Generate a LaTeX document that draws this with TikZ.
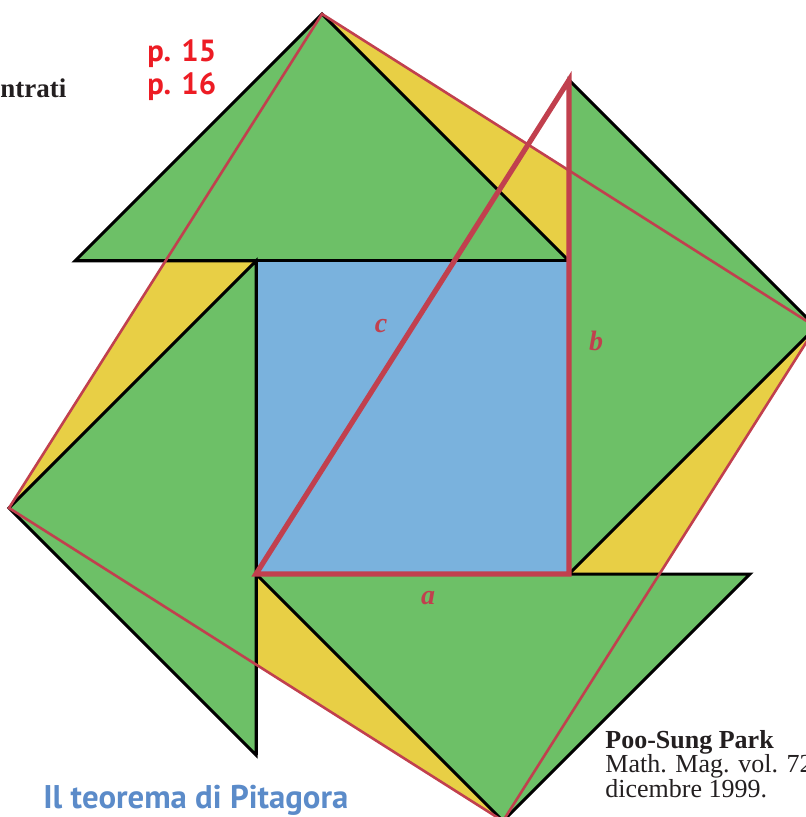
\documentclass[tikz,border=0pt]{standalone}
\usepackage{fontspec}
\setmainfont{Liberation Serif}
\newfontfamily\ptsans{PT Sans}
\definecolor{grn}{HTML}{6DC067}
\definecolor{yel}{HTML}{E8CF45}
\definecolor{blu}{HTML}{7AB2DD}
\definecolor{redl}{HTML}{C1404E}
\definecolor{redp}{HTML}{ED1C24}
\definecolor{bluet}{HTML}{5B8BC9}
\definecolor{txt}{HTML}{231F20}
\begin{document}
\begin{tikzpicture}[x=0.5pt,y=-0.5pt,
  greentri/.style={fill=grn,draw=black,line width=1.5pt,line join=miter},
  yellowfill/.style={fill=yel},
  bluesq/.style={fill=blu},
  redthin/.style={draw=redl,line width=1.3pt,line join=miter},
  redthick/.style={draw=redl,line width=2.6pt,line join=miter},
  lbl/.style={text=redl,font=\fontsize{14}{16}\selectfont\bfseries\itshape},
  pref/.style={text=redp,font=\ptsans\fontsize{15.3}{17}\selectfont\bfseries,anchor=base west,inner sep=0pt},
  cite/.style={text=txt,font=\fontsize{13}{13}\selectfont,anchor=base west,inner sep=0pt}]
\useasboundingbox (0,0) rectangle (805,817);
% key points
\coordinate (S1) at (256,574);
\coordinate (S2) at (569,574);
\coordinate (S3) at (569,261);
\coordinate (S4) at (256,261);
\coordinate (T) at (569,80);
\coordinate (TL) at (75,261);
\coordinate (TA) at (322,14);
\coordinate (RA) at (816,327);
\coordinate (BR) at (750,574);
\coordinate (BA) at (503,821);
\coordinate (LB) at (256,755);
\coordinate (LA) at (9,508);
% yellow square on c
\fill[yellowfill] (TA) -- (RA) -- (BA) -- (LA) -- cycle;
% green triangles
\draw[greentri] (TL) -- (S3) -- (TA) -- cycle;
\draw[greentri] (T) -- (S2) -- (RA) -- cycle;
\draw[greentri] (S1) -- (BR) -- (BA) -- cycle;
\draw[greentri] (S4) -- (LB) -- (LA) -- cycle;
% blue square
\fill[bluesq] (S1) -- (S2) -- (S3) -- (S4) -- cycle;
\draw[black,line width=1.5pt] (TL) -- (S3);
\draw[black,line width=1.5pt] (S4) -- (LB);
% red square on c
\draw[redthin] (TA) -- (RA) -- (BA) -- (LA) -- cycle;
% red right triangle
\draw[redthick] (S1) -- (S2) -- (T) -- cycle;
% labels
\node[lbl] (lc) at (381,326) {c};
\node[lbl] (lb) at (596,341) {b};
\node[lbl] (la) at (428,598) {a};
% texts
\node[text=txt,font=\fontsize{13.5}{15}\selectfont\bfseries,anchor=base west,inner sep=0pt] (nt) at (0,98) {ntrati};
\node[pref] (p15) at (147,62) {p. 15};
\node[pref] (p16) at (147,95) {p. 16};
\node[cite,font=\fontsize{13}{13}\selectfont\bfseries] (psp) at (605,748) {Poo-Sung Park};
\node[cite] (mm) at (605,772) {Math. Mag. vol. 72};
\node[cite] (dic) at (605,797) {dicembre 1999.};
\node[text=bluet,font=\ptsans\fontsize{16.4}{18}\selectfont\bfseries,anchor=base west,inner sep=0pt] (tit) at (43,808) {Il teorema di Pitagora};
\end{tikzpicture}
\end{document}
